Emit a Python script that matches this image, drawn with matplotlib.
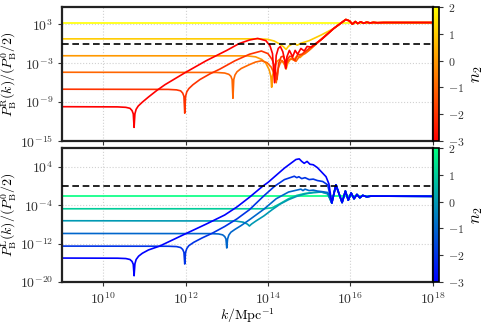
import numpy as np
import matplotlib
matplotlib.use("Agg")
import matplotlib.pyplot as plt
from matplotlib import cm, colors
from matplotlib.ticker import FixedLocator, FuncFormatter, NullLocator

plt.rcParams["mathtext.fontset"] = "cm"
plt.rcParams["font.family"] = "serif"
plt.rcParams["font.serif"] = ["DejaVu Serif"]

# spectral indices of the curves (drawing order)
n2_values = [2, 1, 0, -1, -2, -3]

# ---- top panel: P^R, (log10 k, log10 P) pairs ----
tail_R = [(15.6, 2.4), (15.89, 3.77), (15.98, 3.55), (16.05, 3.05), (16.12, 3.45),
          (16.18, 3.15), (16.25, 3.4), (16.32, 3.2), (16.4, 3.35), (16.48, 3.24),
          (16.56, 3.32), (16.65, 3.27), (16.8, 3.3), (18.0, 3.3)]

R_curves = {
    2: [(9.0, 3.3), (18.0, 3.3)],
    1: [(9.0, 0.78), (13.8, 0.78), (14.0, 0.7), (14.15, 0.45), (14.28, 0.0), (14.37, -0.4),
        (14.44, -0.85), (14.5, -0.35), (14.58, -0.05), (14.65, 0.05), (14.71, -0.2),
        (14.8, 0.1), (15.0, 0.5), (15.3, 1.4)],
    0: [(9.0, -1.83), (13.5, -1.85), (13.7, -2.0), (13.85, -2.4), (13.95, -3.0), (14.03, -4.0),
        (14.07, -5.0), (14.09, -6.7), (14.11, -5.0), (14.15, -3.7), (14.22, -2.7),
        (14.28, -2.4), (14.34, -2.6), (14.4, -3.2), (14.44, -3.9), (14.48, -3.0),
        (14.55, -2.3), (14.62, -2.5), (14.7, -1.9), (14.78, -2.1), (14.88, -1.5),
        (15.0, -0.9), (15.3, 0.8)],
    -1: [(9.0, -4.38), (12.75, -4.41), (12.95, -4.5), (13.05, -4.7), (13.1, -5.0),
         (13.13, -5.5), (13.15, -8.4), (13.17, -5.5), (13.2, -4.8), (13.25, -4.3),
         (13.35, -3.8), (13.55, -3.2), (13.7, -2.8), (13.85, -2.6), (13.98, -2.9),
         (14.08, -3.6), (14.15, -4.6), (14.2, -6.0), (14.25, -3.8), (14.3, -2.9),
         (14.35, -2.6), (14.4, -3.0), (14.43, -3.5), (14.47, -2.8), (14.52, -2.4),
         (14.6, -2.3), (14.68, -2.7), (14.78, -1.8), (14.9, -1.5), (15.0, -1.0), (15.3, 0.7)],
    -2: [(9.0, -7.0), (11.58, -7.03), (11.78, -7.1), (11.88, -7.25), (11.93, -7.6),
         (11.96, -8.1), (11.98, -10.7), (12.0, -8.1), (12.03, -7.4), (12.08, -6.9),
         (12.18, -6.3), (12.35, -5.5), (12.6, -4.6), (12.83, -3.9), (13.2, -2.6),
         (13.55, -1.6), (13.84, -1.1), (14.0, -1.5), (14.1, -2.4), (14.17, -3.6),
         (14.22, -5.5), (14.26, -3.0), (14.32, -2.0), (14.37, -1.9), (14.41, -2.5),
         (14.44, -3.3), (14.48, -2.3), (14.53, -1.9), (14.58, -2.0), (14.65, -2.6),
         (14.72, -1.7), (14.82, -1.6), (14.9, -1.2), (15.0, -0.7), (15.3, 0.7)],
    -3: [(9.0, -9.7), (10.35, -9.73), (10.55, -9.8), (10.65, -9.95), (10.7, -10.3),
         (10.73, -10.8), (10.75, -12.9), (10.77, -10.8), (10.8, -10.1), (10.85, -9.6),
         (10.95, -9.0), (11.1, -8.2), (11.3, -7.2), (11.5, -6.3), (12.0, -4.4), (12.5, -2.6),
         (13.0, -1.0), (13.3, 0.05), (13.55, 0.6), (13.75, 0.85), (13.95, 0.5), (14.05, -0.3),
         (14.11, -1.5), (14.16, -6.0), (14.2, -1.8), (14.25, -0.7), (14.3, -0.4),
         (14.36, -1.2), (14.41, -2.6), (14.43, -3.8), (14.46, -2.0), (14.52, -1.0),
         (14.6, -2.0), (14.66, -1.0), (14.72, -1.6), (14.8, -0.7), (14.88, -1.1),
         (14.95, -0.4), (15.05, -0.5), (15.3, 0.7)],
}

# ---- bottom panel: P^L ----
tail_L = [(15.55, -3.5), (15.65, 0.3), (15.8, -3.4), (15.88, -1.0), (15.95, -2.9),
          (16.02, -1.4), (16.09, -2.6), (16.16, -1.7), (16.23, -2.4), (16.3, -1.9),
          (16.4, -2.2), (16.5, -2.05), (18.0, -2.1)]

L_curves = {
    2: [(9.0, -2.13), (18.0, -2.13)],
    1: [(9.0, -4.7), (13.9, -4.7), (14.1, -4.5), (14.3, -3.6), (14.5, -2.6), (14.7, -1.9),
        (14.9, -1.5), (15.1, -1.3), (15.3, -1.2), (15.45, -1.5)],
    0: [(9.0, -7.2), (13.2, -7.25), (13.4, -7.5), (13.5, -7.9), (13.55, -8.3), (13.6, -7.9),
        (13.7, -7.3), (13.9, -6.2), (14.1, -4.9), (14.3, -3.7), (14.5, -2.8), (14.7, -2.1),
        (14.9, -1.6), (15.1, -1.3), (15.3, -1.2), (15.45, -1.6)],
    -1: [(9.0, -9.86), (12.6, -9.89), (12.8, -9.96), (12.9, -10.15), (12.95, -10.5),
         (12.98, -11.0), (13.0, -12.9), (13.02, -11.0), (13.05, -10.2), (13.1, -9.6),
         (13.2, -9.0), (13.35, -8.2), (13.55, -7.0), (13.9, -4.8), (14.2, -2.6),
         (14.5, -1.2), (14.8, -0.6), (14.85, -0.9), (14.9, -0.6), (15.0, -0.9),
         (15.1, -0.8), (15.2, -1.0), (15.3, -1.1), (15.45, -1.3)],
    -2: [(9.0, -12.5), (11.58, -12.53), (11.78, -12.6), (11.88, -12.8), (11.93, -13.2),
         (11.96, -13.8), (11.98, -16.25), (12.0, -13.8), (12.03, -13.0), (12.08, -12.4),
         (12.2, -11.7), (12.4, -10.8), (12.65, -9.8), (12.95, -8.4), (13.25, -6.8),
         (13.55, -4.9), (13.9, -2.0), (14.16, 0.0), (14.4, 1.4), (14.64, 2.1), (14.7, 1.8),
         (14.75, 2.0), (14.82, 1.6), (14.9, 1.8), (15.0, 1.4), (15.1, 1.5), (15.2, 1.2),
         (15.33, 1.0), (15.45, 0.3)],
    -3: [(9.0, -15.0), (10.35, -15.03), (10.55, -15.1), (10.65, -15.3), (10.7, -15.7),
         (10.73, -16.3), (10.75, -18.7), (10.77, -16.2), (10.8, -15.3), (10.86, -14.6),
         (10.95, -14.0), (11.1, -13.3), (11.37, -12.5), (11.98, -10.0), (12.5, -7.9),
         (12.95, -6.0), (13.25, -4.3), (13.55, -2.3), (13.87, 0.0), (14.0, 0.8),
         (14.4, 3.8), (14.68, 5.6), (14.76, 5.73), (14.82, 5.2), (14.88, 4.8), (14.95, 5.2),
         (15.02, 4.6), (15.1, 4.5), (15.2, 3.9), (15.3, 3.0), (15.41, 2.0), (15.48, 0.5)],
}

x_ticks = [1e10, 1e12, 1e14, 1e16, 1e18]
yticks_R = [1e-15, 1e-9, 1e-3, 1e3]
yticks_L = [1e-20, 1e-12, 1e-4, 1e4]
cbar_ticks = [-3, -2, -1, 0, 1, 2]


def pow10_label(v, _pos):
    return r"$10^{%d}$" % int(round(np.log10(v)))


def style_axes(ax, yticks, ylim):
    ax.set_xscale("log")
    ax.set_yscale("log")
    ax.set_xlim(1e9, 1e18)
    ax.set_ylim(*ylim)
    ax.xaxis.set_major_locator(FixedLocator(x_ticks))
    ax.yaxis.set_major_locator(FixedLocator(yticks))
    ax.xaxis.set_minor_locator(NullLocator())
    ax.yaxis.set_minor_locator(NullLocator())
    ax.xaxis.set_major_formatter(FuncFormatter(pow10_label))
    ax.yaxis.set_major_formatter(FuncFormatter(pow10_label))
    ax.grid(True, color="0.82", ls=":", lw=0.8, zorder=0)
    ax.tick_params(direction="out", length=3, width=0.8, labelsize=10, colors="#333333")
    for sp in ax.spines.values():
        sp.set_linewidth(1.6)
        sp.set_color("#222222")
    ax.axhline(1.0, color="k", ls="--", lw=1.2, dashes=(4, 2.2), zorder=3)


fig = plt.figure(figsize=(4.89, 3.26), dpi=100)
ax_r = fig.add_axes([0.1268, 0.5675, 0.7581, 0.411])
ax_l = fig.add_axes([0.1268, 0.135, 0.7581, 0.411])
cax_r = fig.add_axes([0.8849, 0.5675, 0.0135, 0.411])
cax_l = fig.add_axes([0.8849, 0.135, 0.0135, 0.411])

norm = colors.Normalize(vmin=-3, vmax=2)
panels = [
    (ax_r, cax_r, "autumn", R_curves, tail_R, yticks_R, (1e-15, 10 ** 5.7),
     r"$P^{\rm R}_{\rm B}(k)/(P^0_{\rm B}/2)$"),
    (ax_l, cax_l, "winter", L_curves, tail_L, yticks_L, (1e-20, 1e8),
     r"$P^{\rm L}_{\rm B}(k)/(P^0_{\rm B}/2)$"),
]

for ax, cax, cmap_name, curves, tail, yt, yl, ylab in panels:
    cmap = plt.get_cmap(cmap_name)
    for n2 in n2_values:
        pts = list(curves[n2])
        if n2 != 2:
            pts += tail
        lk, lp = np.array(pts).T
        ax.plot(10 ** lk, 10 ** lp, color=cmap(norm(n2)), lw=1.2, zorder=2)
    style_axes(ax, yt, yl)
    ax.set_ylabel(ylab, fontsize=10, labelpad=1)

    sm = cm.ScalarMappable(norm=norm, cmap=cmap)
    cb = fig.colorbar(sm, cax=cax, ticks=cbar_ticks)
    cb.ax.yaxis.set_major_formatter(FuncFormatter(lambda v, _p: r"$%d$" % round(v)))
    cb.ax.tick_params(direction="out", length=3, width=0.8, labelsize=8.5, colors="#333333")
    cb.outline.set_linewidth(1.2)
    cb.set_label(r"$n_2$", fontsize=12, labelpad=2)

ax_r.tick_params(labelbottom=False)
ax_l.set_xlabel(r"$k/{\rm Mpc}^{-1}$", fontsize=10, labelpad=0)

fig.savefig("out.png", dpi=100)
